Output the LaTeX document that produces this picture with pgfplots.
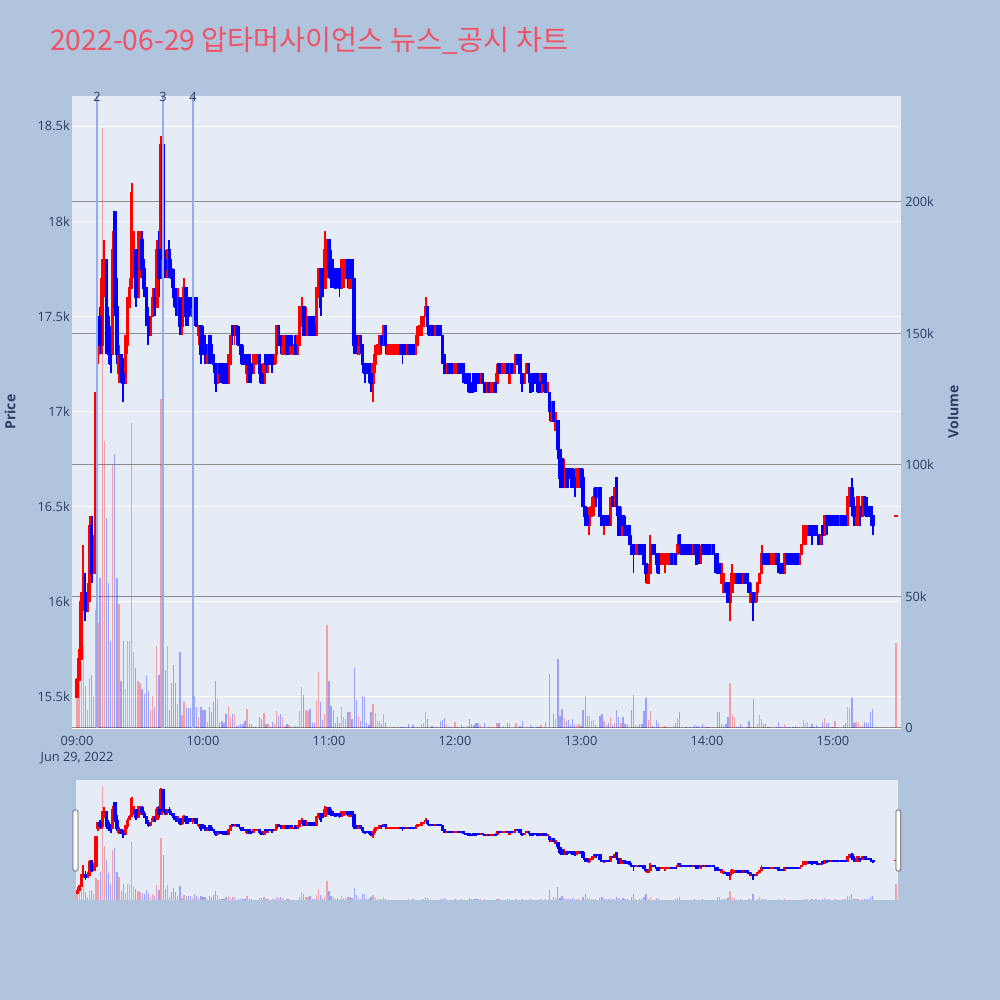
\documentclass[border=0pt]{standalone}
\usepackage{pgfplots}
\pgfplotsset{compat=1.18}
\usepackage{pgfplotstable}
\usepackage{fontspec}
\setmainfont{Open Sans}
\newfontfamily\kr{Noto Sans CJK KR}
\definecolor{outbg}{RGB}{176,196,222}
\definecolor{plotbg}{RGB}{229,236,246}
\definecolor{tickc}{RGB}{42,63,95}
\definecolor{ttlc}{RGB}{239,83,101}
\definecolor{vgrid}{RGB}{140,140,140}
\definecolor{vline}{RGB}{150,172,240}
\definecolor{upc}{RGB}{255,0,0}
\definecolor{dnc}{RGB}{0,0,255}

\pgfplotstableread[row sep=\\]{
t o h l c v\\
0 15500 15600 15500 15590 19000\\ 1 15590 15750 15590 15700 30000\\ 2 15700 16050 15700 16000 25000\\ 3 16000 16300 15950 16050 31000\\
4 16050 16150 15900 15950 16000\\ 5 15950 16100 15950 16050 7000\\ 6 16050 16450 16000 16400 19000\\ 7 16400 16450 16100 16150 20000\\
8 16150 16350 16150 16300 12000\\ 9 16250 17100 16250 17100 45000\\ 10 17300 17500 17250 17500 40000\\ 11 17500 17550 17300 17350 57000\\
12 17350 17800 17300 17700 228000\\ 13 17700 17900 17600 17800 109000\\ 14 17800 17800 17300 17350 80000\\ 15 17500 17550 17250 17300 55000\\
16 17300 17450 17200 17250 33000\\ 17 17300 17950 17300 17850 100000\\ 18 18050 18050 17500 17550 104000\\ 19 17550 17700 17250 17300 57000\\
20 17200 17350 17150 17300 47000\\ 21 17300 17300 17150 17200 18000\\ 22 17200 17280 17050 17150 33000\\ 23 17150 17400 17150 17350 15000\\
24 17350 17600 17300 17550 33000\\ 25 17550 17700 17550 17650 33000\\ 26 17650 18200 17650 18150 116000\\ 27 17800 17950 17700 17850 29000\\
28 17850 17850 17550 17600 23000\\ 29 17600 17950 17600 17750 18000\\ 30 17750 17950 17700 17900 17000\\ 31 17900 17950 17700 17750 15000\\
32 17750 17800 17600 17650 13000\\ 33 17650 17650 17450 17500 20000\\ 34 17500 17550 17350 17400 14000\\ 35 17400 17500 17400 17500 7000\\
36 17500 17650 17500 17600 12000\\ 37 17600 17650 17500 17550 8000\\ 38 17550 17900 17550 17850 31000\\ 39 17850 17950 17600 17700 20000\\
40 17700 18450 17700 18400 125000\\ 41 18400 18400 17750 17800 90000\\ 42 17800 17850 17700 17750 22000\\ 43 17750 17850 17700 17850 31000\\
44 17850 17900 17700 17750 7000\\ 45 17750 17800 17650 17700 17000\\ 46 17700 17750 17550 17600 24000\\ 47 17600 17650 17500 17550 17000\\
48 17550 17650 17500 17600 9000\\ 49 17600 17600 17400 17450 29000\\ 50 17450 17600 17400 17550 5000\\ 51 17550 17700 17500 17650 10000\\
52 17650 17650 17450 17500 7500\\ 53 17550 17600 17450 17500 7500\\ 54 17600 17600 17500 17550 7500\\ 55 17500 17600 17450 17600 5000\\
56 17600 17600 17450 17500 12000\\ 57 17550 17600 17450 17450 8000\\ 58 17400 17450 17350 17450 4000\\ 59 17450 17450 17250 17300 8000\\
60 17400 17450 17300 17350 7000\\ 61 17350 17400 17250 17300 7000\\ 62 17300 17350 17250 17350 2400\\ 63 17400 17400 17250 17300 8000\\
64 17350 17400 17250 17300 6000\\ 65 17300 17300 17200 17250 10000\\ 66 17250 17250 17100 17150 18000\\ 67 17150 17250 17150 17250 11000\\
68 17250 17250 17150 17200 2400\\ 69 17250 17250 17150 17200 2800\\ 70 17200 17250 17150 17150 2000\\ 71 17250 17250 17150 17150 5500\\
72 17150 17300 17150 17250 8400\\ 73 17250 17400 17250 17400 4100\\ 74 17450 17450 17350 17400 5500\\ 75 17400 17450 17350 17450 5200\\
76 17450 17450 17350 17400 800\\ 77 17400 17450 17350 17350 1200\\ 78 17350 17350 17250 17300 1700\\ 79 17300 17350 17250 17250 1700\\
80 17300 17300 17250 17250 2800\\ 81 17200 17300 17150 17300 7200\\ 82 17300 17300 17150 17200 1700\\ 83 17250 17250 17150 17200 1700\\
84 17200 17300 17200 17300 500\\ 85 17250 17300 17250 17300 800\\ 86 17300 17300 17250 17300 0\\ 87 17300 17300 17150 17200 4300\\
88 17200 17250 17150 17150 3400\\ 89 17150 17250 17150 17250 5700\\ 90 17300 17300 17200 17250 1500\\ 91 17250 17300 17200 17300 1500\\
92 17300 17300 17250 17250 500\\ 93 17300 17300 17200 17250 2300\\ 94 17250 17300 17250 17300 1500\\ 95 17300 17450 17250 17450 6500\\
96 17450 17450 17350 17350 4600\\ 97 17400 17400 17300 17350 5400\\ 98 17300 17400 17300 17400 4300\\ 99 17350 17400 17300 17400 800\\
100 17400 17400 17300 17300 1400\\ 101 17300 17400 17300 17400 1000\\ 102 17400 17400 17300 17350 500\\ 103 17300 17350 17300 17350 800\\
104 17350 17400 17300 17300 800\\ 105 17300 17400 17300 17400 800\\ 106 17350 17550 17350 17550 6600\\ 107 17450 17600 17450 17550 15500\\
108 17550 17550 17400 17400 12600\\ 109 17400 17550 17400 17500 6900\\ 110 17400 17500 17400 17500 6300\\ 111 17500 17500 17400 17400 7200\\
112 17450 17500 17400 17400 2000\\ 113 17450 17500 17400 17400 2000\\ 114 17400 17650 17400 17650 10300\\ 115 17600 17750 17600 17750 21400\\
116 17750 17750 17500 17550 10000\\ 117 17750 17750 17600 17650 3000\\ 118 17650 17950 17650 17850 5400\\ 119 17750 17900 17700 17900 39000\\
120 17900 17900 17700 17750 17700\\ 121 17800 17850 17650 17700 8200\\ 122 17750 17800 17650 17700 6700\\ 123 17750 17750 17650 17650 2000\\
124 17750 17750 17650 17700 4100\\ 125 17750 17750 17600 17650 2000\\ 126 17650 17800 17650 17800 8000\\ 127 17700 17800 17650 17800 4000\\
128 17700 17800 17700 17800 3300\\ 129 17800 17800 17650 17700 6100\\ 130 17650 17800 17650 17800 5900\\ 131 17800 17800 17650 17700 3300\\
132 17700 17700 17300 17350 23200\\ 133 17400 17400 17300 17350 10700\\ 134 17300 17400 17300 17400 4600\\ 135 17400 17400 17300 17350 2700\\
136 17350 17350 17200 17250 12200\\ 137 17250 17250 17150 17200 11600\\ 138 17250 17250 17200 17200 2000\\ 139 17250 17250 17150 17200 1200\\
140 17200 17200 17100 17150 5900\\ 141 17150 17250 17050 17250 9300\\ 142 17250 17350 17200 17300 5600\\ 143 17300 17350 17300 17350 2700\\
144 17300 17400 17300 17400 2700\\ 145 17400 17400 17300 17350 1400\\ 146 17350 17450 17350 17450 5200\\ 147 17450 17450 17300 17350 1900\\
148 17300 17350 17300 17350 0\\ 149 17300 17350 17300 17350 0\\ 150 17300 17350 17300 17350 0\\ 151 17300 17350 17300 17350 400\\
152 17300 17350 17300 17350 0\\ 153 17300 17350 17300 17350 0\\ 154 17350 17350 17300 17300 500\\ 155 17350 17350 17250 17300 500\\
156 17350 17350 17300 17300 400\\ 157 17300 17350 17300 17350 0\\ 158 17350 17350 17300 17300 1400\\ 159 17300 17350 17300 17350 0\\
160 17350 17350 17300 17300 1200\\ 161 17300 17350 17300 17350 0\\ 162 17350 17450 17350 17400 500\\ 163 17400 17450 17400 17450 0\\
164 17400 17500 17400 17500 1700\\ 165 17450 17500 17450 17500 1800\\ 166 17500 17600 17500 17550 6000\\ 167 17550 17550 17400 17450 3500\\
168 17450 17450 17400 17400 0\\ 169 17450 17450 17400 17400 800\\ 170 17400 17450 17400 17450 0\\ 171 17400 17450 17400 17450 400\\
172 17450 17450 17400 17400 0\\ 173 17450 17450 17400 17400 2700\\ 174 17400 17400 17250 17300 3000\\ 175 17300 17300 17200 17200 3700\\
176 17200 17250 17200 17250 1500\\ 177 17250 17250 17200 17200 400\\ 178 17250 17250 17200 17200 400\\ 179 17200 17250 17200 17250 0\\
180 17200 17250 17200 17250 2200\\ 181 17200 17250 17200 17250 400\\ 182 17250 17250 17200 17200 0\\ 183 17250 17250 17200 17200 1200\\
184 17250 17250 17150 17200 400\\ 185 17200 17200 17150 17150 0\\ 186 17200 17200 17100 17150 800\\ 187 17150 17200 17100 17100 3300\\
188 17150 17150 17100 17100 1500\\ 189 17200 17200 17100 17150 1200\\ 190 17200 17200 17100 17150 2000\\ 191 17200 17200 17150 17150 1800\\
192 17150 17200 17150 17200 1200\\ 193 17200 17200 17150 17150 0\\ 194 17150 17150 17100 17100 1800\\ 195 17100 17150 17100 17150 0\\
196 17150 17150 17100 17100 400\\ 197 17100 17150 17100 17150 400\\ 198 17100 17150 17100 17150 400\\ 199 17150 17150 17100 17100 0\\
200 17150 17250 17150 17200 1900\\ 201 17250 17250 17200 17200 2000\\ 202 17200 17250 17200 17250 0\\ 203 17200 17250 17200 17250 800\\
204 17200 17250 17200 17250 400\\ 205 17250 17250 17200 17200 1800\\ 206 17150 17250 17150 17250 1800\\ 207 17250 17250 17200 17200 0\\
208 17200 17250 17200 17250 0\\ 209 17250 17300 17250 17300 1800\\ 210 17300 17300 17250 17250 0\\ 211 17300 17300 17200 17200 800\\
212 17200 17200 17100 17150 2600\\ 213 17150 17200 17150 17200 0\\ 214 17200 17250 17200 17250 400\\ 215 17250 17250 17150 17200 0\\
216 17200 17200 17100 17100 1200\\ 217 17200 17200 17100 17150 400\\ 218 17200 17200 17150 17150 0\\ 219 17200 17200 17100 17150 400\\
220 17150 17150 17100 17100 400\\ 221 17100 17200 17100 17200 1200\\ 222 17200 17200 17100 17150 0\\ 223 17200 17200 17100 17100 2400\\
224 17100 17150 17100 17150 0\\ 225 17100 17100 16950 17000 20500\\ 226 16950 17050 16950 17050 0\\ 227 17050 17050 16950 16950 5500\\
228 16900 17000 16900 16950 3300\\ 229 16950 16950 16750 16800 26400\\ 230 16800 16800 16600 16650 4600\\ 231 16750 16750 16600 16600 7200\\
232 16600 16750 16600 16700 3700\\ 233 16700 16700 16600 16600 2700\\ 234 16700 16700 16600 16650 3000\\ 235 16700 16700 16600 16650 1200\\
236 16700 16700 16600 16600 3300\\ 237 16650 16700 16550 16600 1700\\ 238 16600 16700 16600 16700 1200\\ 239 16650 16700 16600 16700 1400\\
240 16700 16700 16600 16650 800\\ 241 16650 16700 16500 16500 7000\\ 242 16500 16500 16400 16450 12100\\ 243 16450 16500 16400 16400 4700\\
244 16400 16500 16350 16450 4700\\ 245 16450 16550 16450 16500 2700\\ 246 16500 16600 16450 16550 3000\\ 247 16600 16600 16500 16550 1200\\
248 16550 16600 16550 16600 0\\ 249 16600 16600 16450 16450 4500\\ 250 16450 16450 16400 16400 5500\\ 251 16400 16450 16350 16450 2700\\
252 16450 16450 16400 16400 1200\\ 253 16450 16450 16400 16400 1800\\ 254 16400 16550 16400 16500 4000\\ 255 16550 16550 16500 16500 1200\\
256 16500 16600 16500 16600 1800\\ 257 16650 16650 16450 16500 7000\\ 258 16500 16500 16350 16350 4300\\ 259 16350 16500 16350 16450 1800\\
260 16450 16450 16350 16400 4300\\ 261 16400 16450 16350 16350 1500\\ 262 16400 16400 16350 16350 1500\\ 263 16400 16400 16300 16300 0\\
264 16300 16350 16250 16250 7000\\ 265 16300 16300 16150 16250 12700\\ 266 16250 16300 16250 16300 1200\\ 267 16250 16300 16250 16300 800\\
268 16300 16300 16250 16250 1400\\ 269 16300 16300 16250 16250 1400\\ 270 16300 16300 16200 16200 6600\\ 271 16200 16200 16100 16150 11400\\
272 16100 16200 16100 16150 2900\\ 273 16150 16350 16150 16250 6600\\ 274 16300 16300 16250 16250 800\\ 275 16300 16300 16250 16250 500\\
276 16250 16250 16150 16200 3200\\ 277 16250 16250 16150 16150 2000\\ 278 16200 16250 16200 16250 400\\ 279 16200 16250 16200 16250 400\\
280 16200 16250 16150 16250 600\\ 281 16200 16250 16200 16250 500\\ 282 16200 16250 16200 16250 400\\ 283 16250 16250 16200 16200 0\\
284 16200 16250 16200 16250 900\\ 285 16250 16250 16200 16200 2000\\ 286 16250 16350 16250 16300 3900\\ 287 16350 16350 16250 16300 6000\\
288 16300 16300 16250 16250 0\\ 289 16250 16300 16250 16300 0\\ 290 16300 16300 16250 16250 400\\ 291 16250 16300 16250 16300 0\\
292 16300 16300 16250 16250 400\\ 293 16250 16300 16250 16300 0\\ 294 16300 16300 16250 16250 1200\\ 295 16300 16300 16200 16200 800\\
296 16300 16300 16200 16250 800\\ 297 16250 16300 16200 16250 0\\ 298 16300 16300 16250 16250 1400\\ 299 16250 16300 16250 16300 400\\
300 16300 16300 16250 16250 500\\ 301 16300 16300 16250 16250 500\\ 302 16250 16300 16250 16300 0\\ 303 16300 16300 16250 16250 400\\
304 16250 16250 16150 16200 0\\ 305 16250 16250 16150 16150 6000\\ 306 16200 16200 16150 16150 6000\\ 307 16100 16200 16100 16200 1400\\
308 16050 16150 16050 16100 1200\\ 309 16100 16100 16050 16050 1400\\ 310 16100 16100 16000 16000 4300\\ 311 16000 16100 15900 16050 17100\\
312 16050 16200 16050 16150 5500\\ 313 16100 16150 16100 16150 4000\\ 314 16150 16150 16100 16100 400\\ 315 16150 16150 16100 16100 400\\
316 16150 16150 16100 16100 1400\\ 317 16100 16150 16100 16150 800\\ 318 16150 16150 16100 16100 0\\ 319 16150 16150 16100 16100 400\\
320 16100 16100 16050 16050 2600\\ 321 16000 16100 16000 16050 400\\ 322 16050 16050 15900 16000 11200\\ 323 16000 16050 16000 16050 400\\
324 16050 16100 16000 16100 1700\\ 325 16100 16150 16100 16150 5100\\ 326 16150 16300 16150 16250 3300\\ 327 16250 16250 16200 16200 1400\\
328 16250 16250 16200 16200 1400\\ 329 16250 16250 16200 16200 400\\ 330 16200 16250 16200 16250 500\\ 331 16200 16250 16200 16250 0\\
332 16200 16250 16200 16250 0\\ 333 16250 16250 16200 16200 400\\ 334 16250 16250 16150 16200 2400\\ 335 16200 16200 16150 16150 400\\
336 16200 16200 16150 16150 400\\ 337 16150 16250 16150 16250 1400\\ 338 16250 16250 16200 16200 400\\ 339 16250 16250 16200 16200 400\\
340 16200 16250 16200 16250 0\\ 341 16250 16250 16200 16200 400\\ 342 16250 16250 16200 16200 800\\ 343 16250 16250 16200 16200 500\\
344 16200 16250 16200 16250 400\\ 345 16250 16300 16250 16300 500\\ 346 16300 16400 16300 16400 3000\\ 347 16350 16400 16300 16400 1800\\
348 16350 16400 16350 16400 2400\\ 349 16400 16400 16350 16350 400\\ 350 16400 16400 16300 16350 1400\\ 351 16400 16400 16350 16350 400\\
352 16400 16400 16350 16350 1000\\ 353 16350 16350 16300 16300 400\\ 354 16300 16350 16300 16350 400\\ 355 16400 16400 16300 16350 2400\\
356 16350 16450 16350 16450 3700\\ 357 16450 16450 16350 16400 2000\\ 358 16450 16450 16400 16400 1800\\ 359 16400 16450 16400 16450 400\\
360 16450 16450 16400 16400 400\\ 361 16400 16450 16400 16450 2600\\ 362 16450 16450 16400 16400 400\\ 363 16400 16450 16400 16450 0\\
364 16450 16450 16400 16400 0\\ 365 16450 16450 16400 16400 1300\\ 366 16450 16450 16400 16400 1800\\ 367 16400 16550 16400 16550 7900\\
368 16550 16600 16500 16600 7600\\ 369 16600 16650 16450 16500 11400\\ 370 16500 16550 16400 16450 1800\\ 371 16450 16500 16400 16500 2300\\
372 16450 16550 16400 16550 2400\\ 373 16500 16500 16400 16450 400\\ 374 16450 16550 16450 16550 1000\\ 375 16550 16550 16450 16500 2400\\
376 16500 16550 16450 16450 2000\\ 377 16500 16500 16450 16450 1800\\ 378 16500 16500 16400 16450 6000\\ 379 16450 16450 16350 16400 7200\\
390 16450 16450 16450 16450 32400\\
}\candles

\pgfplotsset{nomark/.style={only marks, mark=*, mark size=0pt, mark options={draw=none, fill=none}}}
\newcommand{\candleplots}[2]{%
 \addplot[nomark, error bars/.cd, y dir=plus, y explicit, error mark=none, error bar style={draw=upc, line width=#1}]
   table[x=t, y expr={\thisrow{c}>=\thisrow{o} ? \thisrow{l} : nan}, y error plus expr={\thisrow{h}-\thisrow{l}}]{\candles};
 \addplot[nomark, error bars/.cd, y dir=plus, y explicit, error mark=none, error bar style={draw=dnc, line width=#1}]
   table[x=t, y expr={\thisrow{c}<\thisrow{o} ? \thisrow{l} : nan}, y error plus expr={\thisrow{h}-\thisrow{l}}]{\candles};
 \addplot[nomark, error bars/.cd, y dir=plus, y explicit, error mark=none, error bar style={draw=upc, line width=#2}]
   table[x=t, y expr={\thisrow{c}>=\thisrow{o} ? \thisrow{o}-4 : nan}, y error plus expr={max(\thisrow{c}-\thisrow{o},0)+8}]{\candles};
 \addplot[nomark, error bars/.cd, y dir=plus, y explicit, error mark=none, error bar style={draw=dnc, line width=#2}]
   table[x=t, y expr={\thisrow{c}<\thisrow{o} ? \thisrow{c}-4 : nan}, y error plus expr={max(\thisrow{o}-\thisrow{c},0)+8}]{\candles};
}
\newcommand{\volplots}{%
 \addplot[ycomb, draw=upc, draw opacity=0.32, line width=0.95pt, mark=none]
   table[x=t, y expr={\thisrow{c}>=\thisrow{o} ? \thisrow{v} : nan}]{\candles};
 \addplot[ycomb, draw=dnc, draw opacity=0.32, line width=0.95pt, mark=none]
   table[x=t, y expr={\thisrow{c}<\thisrow{o} ? \thisrow{v} : nan}]{\candles};
}

\tikzset{tickfont/.style={font=\fontsize{9.6}{11}\selectfont, text=tickc}}
\pgfplotsset{
  mainbox/.style={at={(54pt,204pt)}, anchor=south west, scale only axis,
    width=621.75pt, height=474pt, xmin=-2.38, xmax=392.4},
  slidebox/.style={at={(57pt,75pt)}, anchor=south west, scale only axis,
    width=616.5pt, height=90pt, xmin=-0.5, xmax=391},
}

\begin{document}
\begin{tikzpicture}
\fill[outbg] (0,0) rectangle (750pt,750pt);
\fill[plotbg] (54pt,204pt) rectangle (675.75pt,678pt);
\fill[plotbg] (57pt,75pt) rectangle (673.5pt,165pt);

% price grid + labels
\begin{axis}[mainbox, ymin=15337, ymax=18658,
  axis line style={draw=none}, major tick length=0pt,
  ytick={15500,16000,16500,17000,17500,18000,18500},
  yticklabels={15.5k,16k,16.5k,17k,17.5k,18k,18.5k},
  xtick={0,60,120,180,240,300,360},
  xticklabels={09:00,10:00,11:00,12:00,13:00,14:00,15:00},
  ymajorgrids, grid style={white, line width=0.75pt},
  yticklabel style={tickfont, anchor=east, inner sep=0pt, xshift=-1.5pt},
  xticklabel style={tickfont, anchor=center, inner sep=0pt, yshift=-9.75pt},
  scaled y ticks=false]
\addplot[draw=none] coordinates {(0,16000)};
\end{axis}
\draw[white, line width=1.5pt] (54pt,204pt) -- (675.75pt,204pt);

% volume
\begin{axis}[mainbox, ymin=0, ymax=240304,
  axis line style={draw=none}, major tick length=0pt,
  xtick=\empty, ytick pos=right, yticklabel pos=right,
  ytick={0,50000,100000,150000,200000},
  yticklabels={0,50k,100k,150k,200k},
  ymajorgrids, grid style={vgrid, line width=0.75pt},
  yticklabel style={tickfont, anchor=west, inner sep=0pt, xshift=3pt},
  scaled y ticks=false]
\volplots
\end{axis}

% candles
\begin{axis}[mainbox, ymin=15337, ymax=18658, hide axis]
\candleplots{1.4pt}{2.6pt}
\addplot[vline, line width=0.8pt] coordinates {(9.52,15337) (9.52,18658)};
\addplot[vline, line width=0.8pt] coordinates {(40.95,15337) (40.95,18658)};
\addplot[vline, line width=0.8pt] coordinates {(55.24,15337) (55.24,18658)};
\end{axis}

% range slider
\begin{axis}[slidebox, ymin=0, ymax=240304, hide axis]
\volplots
\end{axis}
\begin{axis}[slidebox, ymin=15337, ymax=18658, hide axis]
\candleplots{1.4pt}{2.6pt}
\end{axis}
\filldraw[fill=white, draw=black!65, line width=0.6pt, rounded corners=1pt] (54.75pt,96.75pt) rectangle (58.5pt,142.5pt);
\filldraw[fill=white, draw=black!65, line width=0.6pt, rounded corners=1pt] (672pt,96.75pt) rectangle (675.5pt,142.5pt);

% texts
\node[anchor=west, inner sep=0pt, text=ttlc, font=\kr\fontsize{21.2}{24}\selectfont] at (37.5pt,719.25pt) {2022-06-29 압타머사이언스 뉴스\_공시 차트};
\node[rotate=90, text=tickc, font=\bfseries\fontsize{10.5}{12}\selectfont] at (7.5pt,441pt) {Price};
\node[rotate=90, text=tickc, font=\bfseries\fontsize{10.5}{12}\selectfont] at (714.75pt,441pt) {Volume};
\node[tickfont, inner sep=0pt] at (57.75pt,181.5pt) {Jun 29, 2022};
\node[tickfont, inner sep=0pt] at (72.75pt,677.25pt) {2};
\node[tickfont, inner sep=0pt] at (122.25pt,677.25pt) {3};
\node[tickfont, inner sep=0pt] at (144.75pt,677.25pt) {4};

\pgfresetboundingbox
\path[use as bounding box] (0,0) rectangle (750pt,750pt);
\end{tikzpicture}
\end{document}
